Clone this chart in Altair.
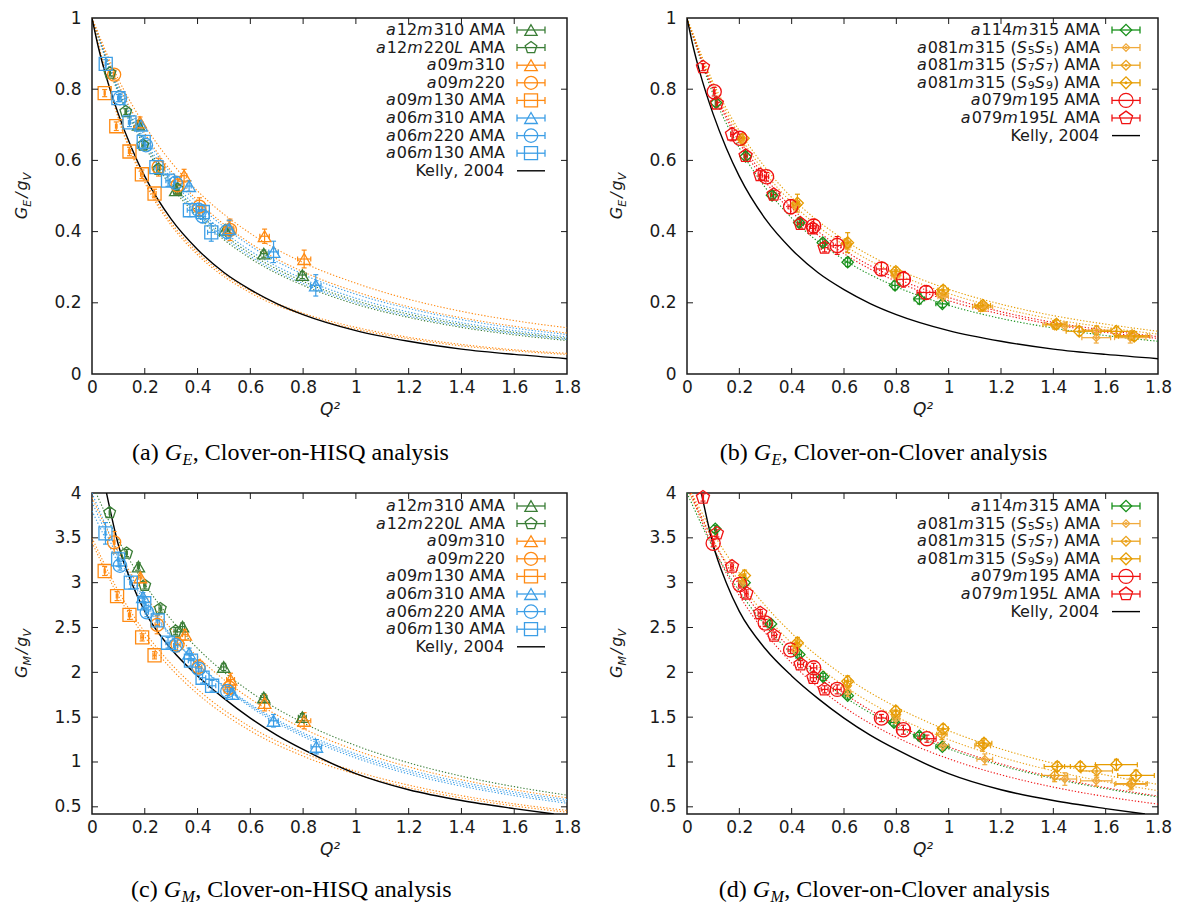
import altair as alt
import pandas as pd

FONT = "DejaVu Sans"
SERIF = "Liberation Serif"
INK = "#1a1a1a"

Q_TICKS = [0, 0.2, 0.4, 0.6, 0.8, 1.0, 1.2, 1.4, 1.6, 1.8]
GE_TICKS = [0, 0.2, 0.4, 0.6, 0.8, 1.0]
GM_TICKS = [0.5, 1.0, 1.5, 2.0, 2.5, 3.0, 3.5, 4.0]

GREEN_DK = "#3a7d36"
ORANGE = "#ff8a12"
BLUE = "#3c9ee6"
GREEN = "#17901a"
GOLD5 = "#f0aa3c"
GOLD7 = "#eba31e"
GOLD9 = "#e69c00"
RED = "#f01212"
PENT = "M0,-1L0.951,-0.309L0.588,0.809L-0.588,0.809L-0.951,-0.309Z"

# ---------------- Kelly 2004 curves ----------------
KELLY_E_Q = [0, 0.025, 0.05, 0.1, 0.15, 0.2, 0.3, 0.4, 0.5, 0.6, 0.7, 0.8, 1.0, 1.2, 1.4, 1.6, 1.8]
KELLY_E_V = [1, 0.915, 0.845, 0.73, 0.635, 0.555, 0.435, 0.35, 0.285, 0.237, 0.198, 0.167, 0.122, 0.092, 0.070, 0.055, 0.043]
KELLY_M_Q = [0.055, 0.1, 0.15, 0.2, 0.3, 0.4, 0.5, 0.6, 0.7, 0.8, 1.0, 1.2, 1.4, 1.6, 1.75]
KELLY_M_V = [4.0, 3.42, 3.0, 2.68, 2.26, 1.96, 1.71, 1.49, 1.30, 1.14, 0.87, 0.69, 0.57, 0.48, 0.42]

# ---------------- dotted fit curves ----------------
FIT_Q = [0, 0.1, 0.2, 0.3, 0.4, 0.6, 0.8, 1.0, 1.2, 1.4, 1.6, 1.8]
FITS_A = [
    (GREEN_DK, [1, 0.789, 0.639, 0.527, 0.443, 0.325, 0.249, 0.196, 0.159, 0.131, 0.110, 0.094]),
    (GREEN_DK, [1, 0.797, 0.650, 0.540, 0.456, 0.338, 0.260, 0.206, 0.168, 0.139, 0.117, 0.100]),
    (BLUE, [1, 0.793, 0.644, 0.534, 0.450, 0.331, 0.254, 0.201, 0.163, 0.135, 0.114, 0.097]),
    (BLUE, [1, 0.802, 0.657, 0.549, 0.465, 0.346, 0.267, 0.213, 0.174, 0.144, 0.122, 0.104]),
    (BLUE, [1, 0.810, 0.669, 0.562, 0.479, 0.360, 0.280, 0.224, 0.184, 0.153, 0.129, 0.111]),
    (ORANGE, [1, 0.814, 0.676, 0.570, 0.487, 0.367, 0.287, 0.231, 0.189, 0.158, 0.134, 0.115]),
    (ORANGE, [1, 0.828, 0.698, 0.595, 0.514, 0.395, 0.313, 0.255, 0.210, 0.176, 0.150, 0.130]),
    (ORANGE, [1, 0.717, 0.537, 0.418, 0.335, 0.228, 0.166, 0.126, 0.099, 0.079, 0.065, 0.055]),
    (ORANGE, [1, 0.722, 0.544, 0.425, 0.342, 0.234, 0.171, 0.131, 0.103, 0.083, 0.068, 0.058]),
]
FITS_B = [
    (GREEN, [1, 0.786, 0.635, 0.523, 0.438, 0.321, 0.245, 0.193, 0.156, 0.129, 0.108, 0.092]),
    (RED, [1, 0.797, 0.650, 0.540, 0.456, 0.338, 0.260, 0.206, 0.168, 0.139, 0.117, 0.100]),
    (RED, [1, 0.803, 0.659, 0.551, 0.467, 0.348, 0.269, 0.215, 0.175, 0.145, 0.123, 0.105]),
    (GOLD7, [1, 0.811, 0.671, 0.564, 0.481, 0.362, 0.282, 0.226, 0.185, 0.154, 0.131, 0.112]),
    (GOLD9, [1, 0.819, 0.683, 0.579, 0.496, 0.377, 0.296, 0.238, 0.196, 0.164, 0.140, 0.120]),
]
FITS_C = [
    (GREEN_DK, [4.10, 3.475, 2.983, 2.589, 2.267, 1.782, 1.437, 1.183, 0.991, 0.842, 0.725, 0.630]),
    (BLUE, [3.90, 3.276, 2.791, 2.406, 2.095, 1.631, 1.305, 1.068, 0.890, 0.753, 0.646, 0.560]),
    (BLUE, [3.80, 3.218, 2.760, 2.394, 2.096, 1.645, 1.325, 1.091, 0.913, 0.776, 0.667, 0.580]),
    (BLUE, [4.00, 3.332, 2.819, 2.415, 2.093, 1.615, 1.284, 1.045, 0.867, 0.731, 0.625, 0.540]),
    (ORANGE, [3.95, 3.343, 2.866, 2.484, 2.174, 1.705, 1.374, 1.130, 0.946, 0.803, 0.691, 0.600]),
    (ORANGE, [3.45, 2.851, 2.396, 2.041, 1.760, 1.348, 1.065, 0.863, 0.713, 0.599, 0.510, 0.440]),
    (ORANGE, [3.50, 2.905, 2.449, 2.093, 1.810, 1.391, 1.103, 0.895, 0.742, 0.624, 0.533, 0.460]),
]
FITS_D = [
    (GREEN, [4.00, 3.387, 2.905, 2.519, 2.205, 1.731, 1.394, 1.147, 0.961, 0.816, 0.702, 0.610]),
    (RED, [4.10, 3.468, 2.972, 2.575, 2.252, 1.766, 1.421, 1.169, 0.978, 0.830, 0.714, 0.620]),
    (RED, [4.10, 3.395, 2.857, 2.438, 2.104, 1.614, 1.277, 1.036, 0.857, 0.720, 0.614, 0.530]),
    (GOLD7, [4.05, 3.472, 3.010, 2.634, 2.324, 1.849, 1.505, 1.250, 1.054, 0.901, 0.779, 0.680]),
    (GOLD9, [4.10, 3.552, 3.107, 2.741, 2.436, 1.961, 1.612, 1.349, 1.145, 0.985, 0.855, 0.750]),
]

# ---------------- labels ('*' toggles italic, '_' = subscript) ----------------
L_A12M310 = "*a*12*m*310 AMA"
L_A12M220L = "*a*12*m*220*L* AMA"
L_A09M310 = "*a*09*m*310"
L_A09M220 = "*a*09*m*220"
L_A09M130 = "*a*09*m*130 AMA"
L_A06M310 = "*a*06*m*310 AMA"
L_A06M220 = "*a*06*m*220 AMA"
L_A06M130 = "*a*06*m*130 AMA"
L_A114 = "*a*114*m*315 AMA"
L_S5 = "*a*081*m*315 (*S*_5*S*_5) AMA"
L_S7 = "*a*081*m*315 (*S*_7*S*_7) AMA"
L_S9 = "*a*081*m*315 (*S*_9*S*_9) AMA"
L_A079 = "*a*079*m*195 AMA"
L_A079L = "*a*079*m*195*L* AMA"
L_KELLY = "Kelly, 2004"


def S(label, color, shape, size, q, v, eq, ev, dot=0):
    return dict(label=label, color=color, shape=shape, size=size, q=q, v=v, eq=eq, ev=ev, dot=dot)


SER_A = [
    S(L_A12M310, GREEN_DK, "triangle-up", 150, [0.176, 0.317, 0.505, 0.651, 0.797], [0.700, 0.516, 0.405, 0.338, 0.278],
      [0.004, 0.006, 0.008, 0.012, 0.015], [0.012, 0.010, 0.012, 0.010, 0.010]),
    S(L_A12M220L, GREEN_DK, PENT, 150, [0.068, 0.128, 0.193, 0.252, 0.324], [0.845, 0.737, 0.643, 0.575, 0.519],
      [0.002, 0.003, 0.004, 0.005, 0.006], [0.008, 0.008, 0.010, 0.010, 0.012]),
    S(L_A09M310, ORANGE, "triangle-up", 160, [0.182, 0.349, 0.520, 0.654, 0.804], [0.707, 0.557, 0.410, 0.387, 0.323],
      [0.006, 0.010, 0.015, 0.018, 0.025], [0.015, 0.018, 0.020, 0.020, 0.025]),
    S(L_A09M220, ORANGE, "circle", 170, [0.084, 0.252, 0.324, 0.407, 0.523], [0.841, 0.581, 0.530, 0.470, 0.405],
      [0.003, 0.008, 0.010, 0.012, 0.015], [0.012, 0.025, 0.025, 0.025, 0.030]),
    S(L_A09M130, ORANGE, "square", 170, [0.048, 0.092, 0.142, 0.189, 0.237], [0.789, 0.696, 0.625, 0.561, 0.507],
      [0.002, 0.003, 0.004, 0.005, 0.006], [0.010, 0.012, 0.012, 0.012, 0.012]),
    S(L_A06M310, BLUE, "triangle-up", 160, [0.186, 0.368, 0.520, 0.688, 0.848], [0.698, 0.528, 0.407, 0.343, 0.249],
      [0.004, 0.008, 0.012, 0.018, 0.020], [0.010, 0.015, 0.025, 0.030, 0.030]),
    S(L_A06M220, BLUE, "circle", 180, [0.106, 0.204, 0.317, 0.404, 0.419, 0.510], [0.775, 0.643, 0.537, 0.461, 0.443, 0.400],
      [0.004, 0.006, 0.008, 0.010, 0.010, 0.012], [0.010, 0.012, 0.015, 0.018, 0.018, 0.020]),
    S(L_A06M130, BLUE, "square", 170, [0.052, 0.100, 0.142, 0.196, 0.244, 0.288, 0.371, 0.420, 0.452],
      [0.871, 0.775, 0.707, 0.652, 0.581, 0.543, 0.460, 0.455, 0.398],
      [0.002, 0.003, 0.004, 0.005, 0.006, 0.008, 0.010, 0.012, 0.014],
      [0.012, 0.010, 0.012, 0.014, 0.016, 0.016, 0.018, 0.020, 0.025]),
]

SER_B = [
    S(L_A114, GREEN, "diamond", 130, [0.111, 0.224, 0.325, 0.429, 0.519, 0.614, 0.795, 0.888, 0.976],
      [0.762, 0.611, 0.502, 0.425, 0.369, 0.314, 0.249, 0.211, 0.197],
      [0.003, 0.005, 0.006, 0.008, 0.010, 0.010, 0.012, 0.020, 0.025],
      [0.010, 0.010, 0.010, 0.012, 0.010, 0.012, 0.012, 0.014, 0.010]),
    S(L_S5, GOLD5, "diamond", 55, [0.213, 0.415, 0.614, 0.798, 0.979, 1.138, 1.444, 1.564, 1.694],
      [0.652, 0.470, 0.361, 0.275, 0.217, 0.188, 0.134, 0.102, 0.102],
      [0.004, 0.008, 0.012, 0.015, 0.020, 0.030, 0.045, 0.055, 0.060],
      [0.010, 0.012, 0.012, 0.012, 0.012, 0.012, 0.012, 0.015, 0.015], dot=1),
    S(L_S7, GOLD7, "diamond", 95, [0.213, 0.419, 0.610, 0.798, 0.974, 1.122, 1.405, 1.565, 1.699],
      [0.657, 0.475, 0.366, 0.281, 0.225, 0.188, 0.138, 0.123, 0.108],
      [0.004, 0.008, 0.012, 0.015, 0.020, 0.030, 0.045, 0.055, 0.060],
      [0.010, 0.012, 0.014, 0.012, 0.012, 0.012, 0.012, 0.012, 0.012], dot=1),
    S(L_S9, GOLD9, "diamond", 140, [0.215, 0.422, 0.614, 0.798, 0.979, 1.130, 1.412, 1.499, 1.641, 1.709],
      [0.662, 0.480, 0.369, 0.288, 0.236, 0.193, 0.140, 0.120, 0.120, 0.106],
      [0.004, 0.008, 0.012, 0.015, 0.020, 0.030, 0.040, 0.050, 0.060, 0.060],
      [0.012, 0.025, 0.028, 0.012, 0.012, 0.012, 0.012, 0.012, 0.012, 0.012], dot=1),
    S(L_A079, RED, "circle", 200, [0.104, 0.202, 0.304, 0.396, 0.484, 0.574, 0.743, 0.827, 0.914],
      [0.793, 0.662, 0.554, 0.470, 0.416, 0.361, 0.295, 0.266, 0.229],
      [0.003, 0.005, 0.008, 0.010, 0.012, 0.015, 0.020, 0.025, 0.035],
      [0.012, 0.012, 0.012, 0.020, 0.018, 0.025, 0.018, 0.022, 0.018]),
    S(L_A079L, RED, PENT, 190, [0.061, 0.114, 0.172, 0.224, 0.280, 0.331, 0.434, 0.480, 0.526],
      [0.862, 0.760, 0.673, 0.613, 0.559, 0.504, 0.422, 0.409, 0.355],
      [0.002, 0.003, 0.005, 0.006, 0.008, 0.009, 0.011, 0.012, 0.013],
      [0.010, 0.010, 0.018, 0.012, 0.012, 0.012, 0.012, 0.014, 0.012]),
]

SER_C = [
    S(L_A12M310, GREEN_DK, "triangle-up", 150, [0.176, 0.343, 0.499, 0.651, 0.797], [3.18, 2.51, 2.06, 1.72, 1.50],
      [0.004, 0.008, 0.010, 0.012, 0.015], [0.04, 0.04, 0.04, 0.04, 0.04]),
    S(L_A12M220L, GREEN_DK, PENT, 150, [0.067, 0.131, 0.200, 0.259, 0.317], [3.78, 3.33, 2.97, 2.71, 2.46],
      [0.002, 0.003, 0.004, 0.005, 0.006], [0.05, 0.04, 0.04, 0.04, 0.04]),
    S(L_A09M310, ORANGE, "triangle-up", 160, [0.183, 0.353, 0.525, 0.654, 0.804], [3.06, 2.42, 1.92, 1.66, 1.46],
      [0.006, 0.010, 0.015, 0.018, 0.025], [0.06, 0.06, 0.07, 0.09, 0.09]),
    S(L_A09M220, ORANGE, "circle", 170, [0.084, 0.247, 0.324, 0.404, 0.520], [3.45, 2.53, 2.31, 2.06, 1.83],
      [0.003, 0.008, 0.010, 0.012, 0.015], [0.12, 0.10, 0.08, 0.08, 0.08]),
    S(L_A09M130, ORANGE, "square", 170, [0.048, 0.095, 0.142, 0.190, 0.237], [3.13, 2.85, 2.64, 2.39, 2.19],
      [0.002, 0.003, 0.004, 0.005, 0.006], [0.05, 0.05, 0.05, 0.04, 0.04]),
    S(L_A06M310, BLUE, "triangle-up", 160, [0.193, 0.368, 0.532, 0.688, 0.850], [2.84, 2.21, 1.76, 1.46, 1.17],
      [0.004, 0.008, 0.012, 0.018, 0.020], [0.05, 0.06, 0.06, 0.07, 0.08]),
    S(L_A06M220, BLUE, "circle", 180, [0.106, 0.208, 0.317, 0.404, 0.513], [3.19, 2.67, 2.30, 2.04, 1.79],
      [0.004, 0.006, 0.008, 0.010, 0.012], [0.05, 0.05, 0.05, 0.05, 0.05]),
    S(L_A06M130, BLUE, "square", 170, [0.051, 0.099, 0.147, 0.198, 0.249, 0.288, 0.375, 0.419, 0.455],
      [3.55, 3.26, 3.00, 2.77, 2.58, 2.33, 2.13, 1.94, 1.85],
      [0.002, 0.003, 0.004, 0.005, 0.006, 0.008, 0.010, 0.012, 0.014],
      [0.12, 0.08, 0.07, 0.06, 0.06, 0.06, 0.06, 0.06, 0.06]),
]

SER_D = [
    S(L_A114, GREEN, "diamond", 130, [0.108, 0.220, 0.321, 0.429, 0.520, 0.614, 0.791, 0.888, 0.976],
      [3.60, 3.00, 2.54, 2.20, 1.95, 1.74, 1.44, 1.29, 1.17],
      [0.003, 0.005, 0.006, 0.008, 0.010, 0.010, 0.015, 0.020, 0.025],
      [0.04, 0.04, 0.04, 0.04, 0.04, 0.04, 0.04, 0.04, 0.04]),
    S(L_S5, GOLD5, "diamond", 55, [0.213, 0.415, 0.614, 0.798, 0.979, 1.138, 1.444, 1.564, 1.694],
      [3.00, 2.24, 1.78, 1.48, 1.18, 1.03, 0.81, 0.79, 0.75],
      [0.004, 0.008, 0.012, 0.015, 0.020, 0.030, 0.045, 0.060, 0.060],
      [0.05, 0.05, 0.05, 0.05, 0.05, 0.06, 0.07, 0.06, 0.06], dot=1),
    S(L_S7, GOLD7, "diamond", 95, [0.213, 0.419, 0.610, 0.798, 0.974, 1.130, 1.405, 1.566, 1.699],
      [3.04, 2.30, 1.85, 1.53, 1.31, 1.18, 0.85, 0.90, 0.76],
      [0.004, 0.008, 0.012, 0.015, 0.020, 0.030, 0.050, 0.060, 0.060],
      [0.05, 0.06, 0.06, 0.05, 0.06, 0.06, 0.07, 0.07, 0.06], dot=1),
    S(L_S9, GOLD9, "diamond", 140, [0.220, 0.422, 0.614, 0.798, 0.979, 1.135, 1.415, 1.503, 1.641, 1.716],
      [3.08, 2.33, 1.90, 1.57, 1.37, 1.21, 0.95, 0.95, 0.97, 0.85],
      [0.005, 0.008, 0.012, 0.015, 0.020, 0.030, 0.050, 0.060, 0.080, 0.070],
      [0.06, 0.06, 0.06, 0.05, 0.05, 0.05, 0.05, 0.05, 0.06, 0.06], dot=1),
    S(L_A079, RED, "circle", 200, [0.100, 0.202, 0.299, 0.396, 0.484, 0.574, 0.743, 0.827, 0.917],
      [3.44, 2.98, 2.55, 2.25, 2.05, 1.81, 1.49, 1.36, 1.26],
      [0.003, 0.005, 0.008, 0.010, 0.012, 0.015, 0.020, 0.025, 0.035],
      [0.04, 0.04, 0.04, 0.04, 0.05, 0.05, 0.04, 0.05, 0.04]),
    S(L_A079L, RED, PENT, 190, [0.061, 0.114, 0.172, 0.227, 0.280, 0.333, 0.434, 0.483, 0.526],
      [3.95, 3.55, 3.18, 2.88, 2.66, 2.41, 2.09, 1.94, 1.81],
      [0.002, 0.003, 0.005, 0.006, 0.008, 0.009, 0.011, 0.012, 0.013],
      [0.04, 0.04, 0.04, 0.04, 0.04, 0.04, 0.04, 0.04, 0.04]),
]

# DejaVu Sans advance widths (em) for layout of mixed-style legend text
WEM = {" ": 0.318, "a": 0.613, "m": 0.974, "A": 0.684, "M": 0.863, "L": 0.557, "(": 0.390, ")": 0.390,
       "S": 0.635, "K": 0.656, "e": 0.615, "l": 0.278, "y": 0.592, ",": 0.318, "/": 0.337,
       "G": 0.775, "E": 0.632, "g": 0.635, "V": 0.684}

LEG_FS = 16
LEG_SUB = 11


def run_w(t, st):
    size = LEG_SUB if st == "s" else LEG_FS
    w = sum(WEM.get(c, 0.636) for c in t) * size
    if st == "i":
        w += 1.0  # italic correction
    return w


def tw(s, size):
    return sum(WEM.get(c, 0.636) for c in s) * size


def parse_runs(s):
    runs, cur, ital, i = [], "", False, 0
    while i < len(s):
        ch = s[i]
        if ch == "*":
            if cur:
                runs.append((cur, "i" if ital else "n"))
            cur = ""
            ital = not ital
        elif ch == "_":
            if cur:
                runs.append((cur, "i" if ital else "n"))
            cur = ""
            runs.append((s[i + 1], "s"))
            i += 1
        else:
            cur += ch
        i += 1
    if cur:
        runs.append((cur, "i" if ital else "n"))
    return runs


ONE = pd.DataFrame({"k": [0]})


def txt(x, y, text, **kw):
    return alt.Chart(ONE).mark_text(text=text, **kw).encode(x=alt.value(x), y=alt.value(y))


def make_panel(W, H, ydom, yticks, series, fits, kq, kv, ysub, tag, csub, crest, cap_x, cap_y,
               leg_tx, leg_y0, leg_dy):
    xs = alt.Scale(domain=[0, 1.8], nice=False, zero=False)
    ys = alt.Scale(domain=ydom, nice=False, zero=False)
    xax = alt.Axis(values=Q_TICKS, format="~g", ticks=False, domain=False, grid=False,
                   labelFont=FONT, labelFontSize=17, labelColor=INK, labelPadding=5,
                   labelFlush=False, labelOverlap=False,
                   title="Q²", titleFont=FONT, titleFontSize=17, titleFontStyle="italic",
                   titleFontWeight="normal", titleColor=INK, titlePadding=6)
    yax = alt.Axis(values=yticks, format="~g", ticks=False, domain=False, grid=False,
                   labelFont=FONT, labelFontSize=17, labelColor=INK, labelPadding=11,
                   labelFlush=False, labelOverlap=False, title=None)

    def X(f):
        return alt.X(f, type="quantitative", scale=xs, axis=xax)

    def Y(f):
        return alt.Y(f, type="quantitative", scale=ys, axis=yax)

    col = alt.Color("c:N", scale=None)
    layers = []

    frows = []
    for k, (c, vals) in enumerate(fits):
        for q, v in zip(FIT_Q, vals):
            frows.append({"id": k, "c": c, "q": q, "v": v})
    layers.append(alt.Chart(pd.DataFrame(frows)).mark_line(
        strokeDash=[1.3, 1.9], strokeWidth=1.1, clip=True, interpolate="monotone"
    ).encode(x=X("q"), y=Y("v"), color=col, detail="id:N"))

    layers.append(alt.Chart(pd.DataFrame({"q": kq, "v": kv})).mark_line(
        color="black", strokeWidth=1.4, clip=True, interpolate="monotone"
    ).encode(x=X("q"), y=Y("v")))

    prow = []
    for s in series:
        for q, v, eq, ev in zip(s["q"], s["v"], s["eq"], s["ev"]):
            prow.append({"q": q, "v": v, "qlo": q - eq, "qhi": q + eq, "vlo": v - ev, "vhi": v + ev,
                         "c": s["color"], "sh": s["shape"], "sz": s["size"], "dot": s["dot"]})
    base = alt.Chart(pd.DataFrame(prow))
    layers.append(base.mark_rule(strokeWidth=1.2).encode(x=X("q"), y=Y("vlo"), y2="vhi", color=col))
    layers.append(base.mark_rule(strokeWidth=1.2).encode(x=X("qlo"), x2="qhi", y=Y("v"), color=col))
    layers.append(base.transform_fold(["vlo", "vhi"], as_=["k", "yy"]).mark_tick(
        orient="horizontal", size=5, thickness=1.2, opacity=1).encode(x=X("q"), y=Y("yy"), color=col))
    layers.append(base.transform_fold(["qlo", "qhi"], as_=["k", "xx"]).mark_tick(
        orient="vertical", size=5, thickness=1.2, opacity=1).encode(x=X("xx"), y=Y("v"), color=col))
    layers.append(base.mark_point(filled=False, strokeWidth=1.3, opacity=1).encode(
        x=X("q"), y=Y("v"), shape=alt.Shape("sh:N", scale=None), size=alt.Size("sz:Q", scale=None), color=col))
    layers.append(base.transform_filter("datum.dot > 0").mark_circle(size=9, opacity=1).encode(
        x=X("q"), y=Y("v"), color=col))

    # inward mirrored ticks
    tq = alt.Chart(pd.DataFrame({"t": Q_TICKS[1:-1]}))
    layers.append(tq.mark_rule(color=INK, strokeWidth=1).encode(x=X("t"), y=alt.value(H), y2=alt.value(H - 6)))
    layers.append(tq.mark_rule(color=INK, strokeWidth=1).encode(x=X("t"), y=alt.value(0), y2=alt.value(6)))
    inner = [t for t in yticks if ydom[0] < t < ydom[1]]
    tv = alt.Chart(pd.DataFrame({"t": inner}))
    layers.append(tv.mark_rule(color=INK, strokeWidth=1).encode(y=Y("t"), x=alt.value(0), x2=alt.value(6)))
    layers.append(tv.mark_rule(color=INK, strokeWidth=1).encode(y=Y("t"), x=alt.value(W), x2=alt.value(W - 6)))

    # legend
    entries = [(s["label"], s["color"], s["shape"], s["size"], s["dot"], 0) for s in series]
    entries.append((L_KELLY, "black", "circle", 0, 0, 1))
    runs_rows, sym_rows = [], []
    for i, (lab, c, sh, sz, dot, kel) in enumerate(entries):
        ly = leg_y0 + i * leg_dy
        runs = parse_runs(lab)
        total = sum(run_w(t, st) for t, st in runs)
        x = leg_tx - total
        for t, st in runs:
            size = LEG_SUB if st == "s" else LEG_FS
            lead = len(t) - len(t.lstrip(" "))
            runs_rows.append({"px": x + lead * WEM[" "] * size, "py": ly, "t": t.strip(" "), "st": st})
            x += run_w(t, st)
        sym_rows.append({"ly": ly, "c": c, "sh": sh, "sz": sz, "dot": dot, "kel": kel})
    LX1, LX2, LXC = leg_tx + 12, leg_tx + 40, leg_tx + 26
    lb = alt.Chart(pd.DataFrame(sym_rows))
    LY = alt.Y("ly:Q", scale=None)
    nonk = lb.transform_filter("datum.kel == 0")
    layers.append(nonk.mark_rule(strokeWidth=1.3).encode(x=alt.value(LX1), x2=alt.value(LX2), y=LY, color=col))
    layers.append(nonk.mark_tick(orient="vertical", size=7, thickness=1.3, opacity=1).encode(x=alt.value(LX1), y=LY, color=col))
    layers.append(nonk.mark_tick(orient="vertical", size=7, thickness=1.3, opacity=1).encode(x=alt.value(LX2), y=LY, color=col))
    layers.append(nonk.mark_point(filled=False, strokeWidth=1.3, opacity=1).encode(
        x=alt.value(LXC), y=LY, shape=alt.Shape("sh:N", scale=None), size=alt.Size("sz:Q", scale=None), color=col))
    layers.append(nonk.transform_filter("datum.dot > 0").mark_circle(size=9, opacity=1).encode(
        x=alt.value(LXC), y=LY, color=col))
    layers.append(lb.transform_filter("datum.kel == 1").mark_rule(color="black", strokeWidth=1.4).encode(
        x=alt.value(LX1), x2=alt.value(LX2), y=LY))
    lt = alt.Chart(pd.DataFrame(runs_rows))
    PX, PY = alt.X("px:Q", scale=None), alt.Y("py:Q", scale=None)
    layers.append(lt.transform_filter("datum.st == 'n'").mark_text(
        font=FONT, fontSize=LEG_FS, align="left", baseline="middle", color=INK).encode(x=PX, y=PY, text="t:N"))
    layers.append(lt.transform_filter("datum.st == 'i'").mark_text(
        font=FONT, fontSize=LEG_FS, fontStyle="italic", align="left", baseline="middle", color=INK).encode(x=PX, y=PY, text="t:N"))
    layers.append(lt.transform_filter("datum.st == 's'").mark_text(
        font=FONT, fontSize=LEG_SUB, align="left", baseline="middle", dy=3, color=INK).encode(x=PX, y=PY, text="t:N"))

    # rotated y title  G_sub / g_V
    pieces = [("G", 16, 0), (ysub, 11, 2), ("/", 16, 2), ("g", 16, 0), ("V", 11, 0)]
    L = sum(tw(t, s) + gap for t, s, gap in pieces)
    off = 0
    y0 = H / 2 + L / 2
    for t, s, gap in pieces:
        xx = -65 if s == 16 else -61
        layers.append(txt(xx, y0 - off, t, font=FONT, fontSize=s, fontStyle="italic", angle=270,
                          align="left", baseline="alphabetic", color=INK))
        off += tw(t, s) + gap

    # caption
    wG = 0.722 * 24
    wsub = (0.611 if csub == "E" else 0.833) * 16
    layers.append(txt(cap_x - wG - 6, cap_y, tag, font=SERIF, fontSize=24, align="right", baseline="alphabetic", color="black"))
    layers.append(txt(cap_x, cap_y, "G", font=SERIF, fontSize=24, fontStyle="italic", align="right", baseline="alphabetic", color="black"))
    layers.append(txt(cap_x + 0.5, cap_y + 5, csub, font=SERIF, fontSize=16, fontStyle="italic", align="left", baseline="alphabetic", color="black"))
    layers.append(txt(cap_x + wsub + 1, cap_y, crest, font=SERIF, fontSize=24, align="left", baseline="alphabetic", color="black"))

    return alt.layer(*layers).properties(width=W, height=H)


HT, HB = 356, 321
pa = make_panel(475, HT, [0, 1], GE_TICKS, SER_A, FITS_A, KELLY_E_Q, KELLY_E_V, "E",
                "(a)", "E", ", Clover-on-HISQ analysis", 90, HT + 86, 413, 12, 17.6)
pb = make_panel(471, HT, [0, 1], GE_TICKS, SER_B, FITS_B, KELLY_E_Q, KELLY_E_V, "E",
                "(b)", "E", ", Clover-on-Clover analysis", 84, HT + 86, 413, 12, 17.6)
pc = make_panel(475, HB, [0.42, 4], GM_TICKS, SER_C, FITS_C, KELLY_M_Q, KELLY_M_V, "M",
                "(c)", "M", ", Clover-on-HISQ analysis", 89, HB + 83, 413, 13, 17.6)
pd_ = make_panel(471, HB, [0.42, 4], GM_TICKS, SER_D, FITS_D, KELLY_M_Q, KELLY_M_V, "M",
                 "(d)", "M", ", Clover-on-Clover analysis", 83, HB + 83, 413, 13, 17.6)

chart = alt.vconcat(
    alt.hconcat(pa, pb, spacing=26),
    alt.hconcat(pc, pd_, spacing=26),
    spacing=14,
).properties(
    padding={"left": 5, "top": 0, "right": 5, "bottom": 0}, background="white"
).configure_view(stroke=INK, strokeWidth=1.5)

chart.save("out.html", embed_options={"renderer": "svg", "actions": False})
